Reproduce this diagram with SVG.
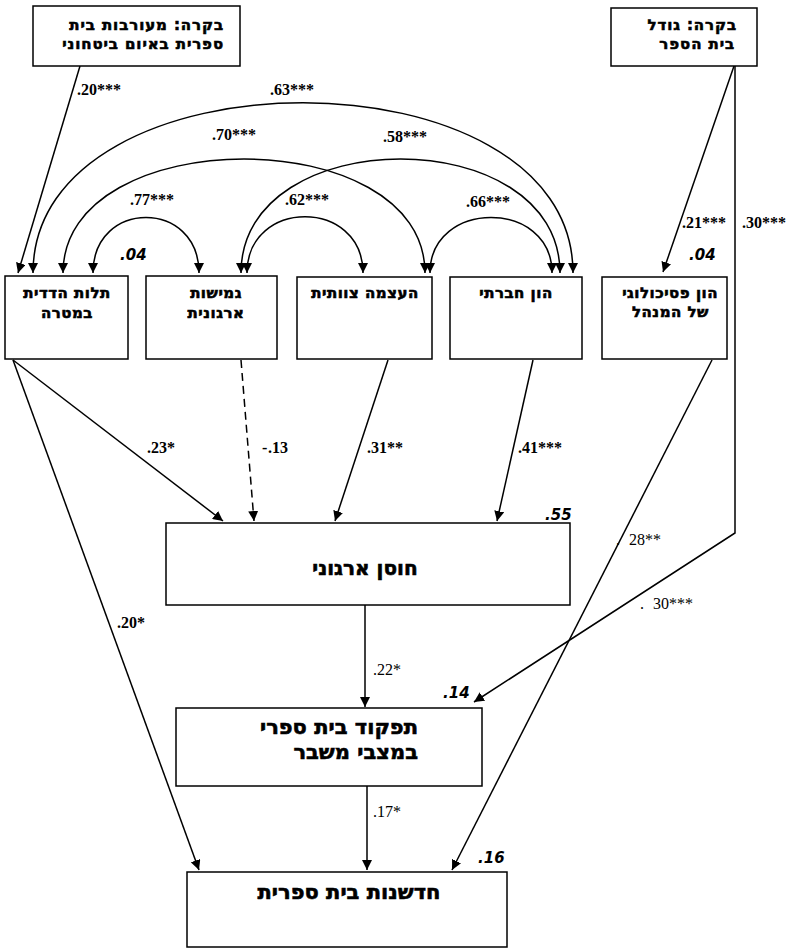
<svg xmlns="http://www.w3.org/2000/svg" width="792" height="949" viewBox="0 0 792 949">
<style>
.box{fill:#fff;stroke:#000;stroke-width:1.5}
.ln{fill:none;stroke:#000;stroke-width:1.5}
.he{font-family:"DejaVu Sans","Liberation Sans",sans-serif;font-weight:bold;font-size:15px;fill:#000;stroke:#000;stroke-width:0.6;letter-spacing:0.5px}
.top{letter-spacing:0.9px}
.big{font-size:21px;letter-spacing:0}
.nb{font-family:"Liberation Serif","DejaVu Serif",serif;font-weight:bold;font-size:16px;fill:#000}
.nr{font-family:"Liberation Serif","DejaVu Serif",serif;font-size:16px;fill:#000}
.ni{font-family:"DejaVu Sans","Liberation Sans",sans-serif;font-weight:bold;font-style:italic;font-size:15px;fill:#000}
</style>
<defs>
<marker id="ah" viewBox="0 0 10 10" refX="10" refY="5" markerWidth="10" markerHeight="10" markerUnits="userSpaceOnUse" orient="auto-start-reverse"><path d="M0,0 L10,5 L0,10 z" fill="#000"/></marker>
</defs>
<rect width="792" height="949" fill="#fff"/>
<g id="connectors">
<path class="ln" d="M80,66 L18,273" marker-end="url(#ah)"/>
<path class="ln" d="M734,66 L663,272" marker-end="url(#ah)"/>
<path class="ln" d="M735,66 V533 L474,702" marker-end="url(#ah)"/>
<path class="ln" d="M33,273 C33,46 573,46 573,273" marker-start="url(#ah)" marker-end="url(#ah)"/>
<path class="ln" d="M63,273 C63,121 425,121 425,273" marker-start="url(#ah)" marker-end="url(#ah)"/>
<path class="ln" d="M241,273 C241,121 560,121 560,273" marker-start="url(#ah)" marker-end="url(#ah)"/>
<path class="ln" d="M93,273 C93,199 199,199 199,273" marker-start="url(#ah)" marker-end="url(#ah)"/>
<path class="ln" d="M247,273 C247,198 363,198 363,273" marker-start="url(#ah)" marker-end="url(#ah)"/>
<path class="ln" d="M430,273 C430,199 552,199 552,273" marker-start="url(#ah)" marker-end="url(#ah)"/>
<path class="ln" d="M13,360 L223,521" marker-end="url(#ah)"/>
<path class="ln" d="M13,360 L199,870" marker-end="url(#ah)"/>
<path class="ln" d="M241,360 L254,521" stroke-dasharray="8,5" marker-end="url(#ah)"/>
<path class="ln" d="M388,360 L335,521" marker-end="url(#ah)"/>
<path class="ln" d="M533,360 L497,521" marker-end="url(#ah)"/>
<path class="ln" d="M712,360 L452,870" marker-end="url(#ah)"/>
<path class="ln" d="M365,605 L365,707" marker-end="url(#ah)"/>
<path class="ln" d="M367,786 L367,870" marker-end="url(#ah)"/>
</g>
<g id="labels" direction="ltr">
<text class="nb" x="77" y="95">.20***</text>
<text class="nb" x="270" y="95">.63***</text>
<text class="nb" x="212" y="140">.70***</text>
<text class="nb" x="383" y="142">.58***</text>
<text class="nb" x="130" y="205">.77***</text>
<text class="nb" x="285" y="205">.62***</text>
<text class="nb" x="466" y="207">.66***</text>
<text class="ni" x="120" y="260">.04</text>
<text class="ni" x="689" y="260">.04</text>
<text class="nb" x="682" y="228">.21***</text>
<text class="nb" x="742" y="228">.30***</text>
<text class="nb" x="147" y="453">.23*</text>
<text class="nb" x="262" y="453">-</text>
<text class="nb" x="268" y="453">.13</text>
<text class="nb" x="367" y="453">.31**</text>
<text class="nb" x="518" y="453">.41***</text>
<text class="ni" x="545" y="520">.55</text>
<text class="nr" x="616" y="545">.</text>
<text class="nr" x="629" y="545">28**</text>
<text class="nr" x="640" y="609">.</text>
<text class="nr" x="653" y="609">30***</text>
<text class="nb" x="117" y="628">.20*</text>
<text class="nr" x="373" y="675">.22*</text>
<text class="ni" x="443" y="698">.14</text>
<text class="nr" x="373" y="817">.17*</text>
<text class="ni" x="478" y="863">.16</text>
</g>
<g id="ctrl-threat">
<rect class="box" x="33" y="6" width="207" height="60"/>
<text class="he top" x="224" y="30" direction="rtl" text-anchor="start">בקרה: מעורבות בית</text>
<text class="he top" x="224" y="49" direction="rtl" text-anchor="start">ספרית באיום ביטחוני</text>
</g>
<g id="ctrl-size">
<rect class="box" x="611" y="8" width="146" height="58"/>
<text class="he top" x="737" y="30" direction="rtl" text-anchor="start">בקרה: גודל</text>
<text class="he top" x="735" y="49" direction="rtl" text-anchor="start">בית הספר</text>
</g>
<g id="interdependence">
<rect class="box" x="5" y="276" width="123" height="83"/>
<text class="he" x="67" y="298" direction="rtl" text-anchor="middle">תלות הדדית</text>
<text class="he" x="67" y="318" direction="rtl" text-anchor="middle">במטרה</text>
</g>
<g id="flexibility">
<rect class="box" x="146" y="276" width="131" height="83"/>
<text class="he" x="216" y="298" direction="rtl" text-anchor="middle">גמישות</text>
<text class="he" x="216" y="318" direction="rtl" text-anchor="middle">ארגונית</text>
</g>
<g id="empowerment">
<rect class="box" x="297" y="277" width="135" height="82"/>
<text class="he" x="365" y="298" direction="rtl" text-anchor="middle">העצמה צוותית</text>
</g>
<g id="social-capital">
<rect class="box" x="450" y="277" width="132" height="82"/>
<text class="he" x="516" y="298" direction="rtl" text-anchor="middle">הון חברתי</text>
</g>
<g id="psych-capital">
<rect class="box" x="602" y="277" width="125" height="82"/>
<text class="he" x="718" y="298" direction="rtl" text-anchor="start">הון פסיכולוגי</text>
<text class="he" x="709" y="317" direction="rtl" text-anchor="start">של המנהל</text>
</g>
<g id="resilience">
<rect class="box" x="166" y="523" width="404" height="82"/>
<text class="he big" x="365" y="575" direction="rtl" text-anchor="middle" font-size="20" style="font-size:20px">חוסן ארגוני</text>
</g>
<g id="functioning">
<rect class="box" x="176" y="708" width="306" height="78"/>
<text class="he big" x="418" y="734" direction="rtl" text-anchor="start">תפקוד בית ספרי</text>
<text class="he big" x="418" y="759" direction="rtl" text-anchor="start">במצבי משבר</text>
</g>
<g id="innovation">
<rect class="box" x="187" y="872" width="320" height="75"/>
<text class="he big" x="349" y="899" direction="rtl" text-anchor="middle">חדשנות בית ספרית</text>
</g>
</svg>
